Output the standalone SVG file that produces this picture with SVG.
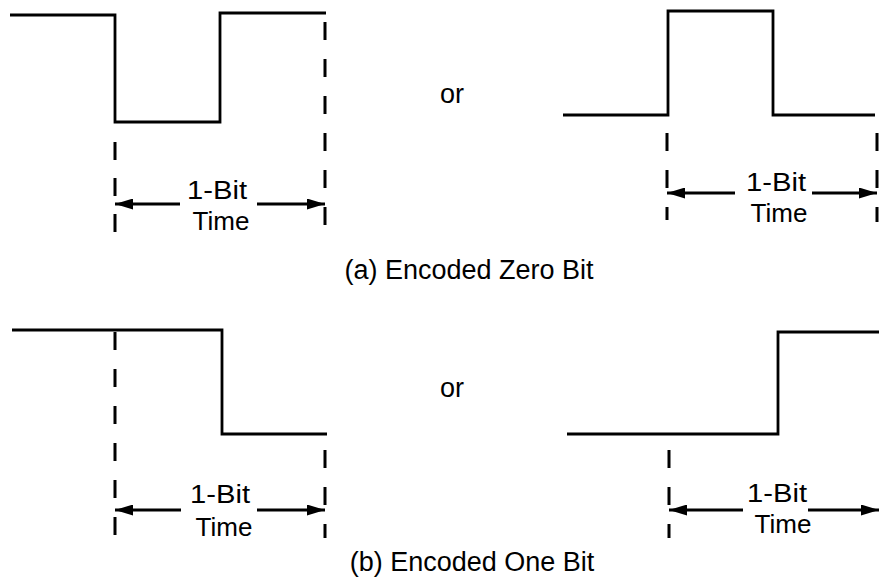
<svg xmlns="http://www.w3.org/2000/svg" width="879" height="578" viewBox="0 0 879 578">
<defs>
<marker id="ah" viewBox="0 0 18 11" refX="18" refY="5.5" markerWidth="18" markerHeight="11" markerUnits="userSpaceOnUse" orient="auto">
<path d="M0,0 L18,5.5 L0,11 Z" fill="#000"/>
</marker>
</defs>
<style>
.wave{fill:none;stroke:#000;stroke-width:2.8;stroke-linejoin:miter}
.dash{fill:none;stroke:#000;stroke-width:3;stroke-dasharray:18 19}
.arr{fill:none;stroke:#000;stroke-width:2.8;marker-end:url(#ah)}
text{font-family:"Liberation Sans",Arial,Helvetica,sans-serif;fill:#000}
.lbl{font-size:26px;text-anchor:middle}
.cap{font-size:27px;text-anchor:middle}
</style>
<rect width="879" height="578" fill="#fff"/>

<g id="zero-a">
<path class="wave" d="M10,15 H115 V122 H220 V13 H326"/>
</g>
<g id="zero-b">
<path class="wave" d="M563,115 H668 V11 H773 V115 H875"/>
</g>
<g id="one-a">
<path class="wave" d="M12,330 H222 V434 H327"/>
</g>
<g id="one-b">
<path class="wave" d="M567,434 H778 V332 H879"/>
</g>

<g id="connectors">
<path class="dash" d="M115,142 V232" style="stroke-dasharray:18 18"/>
<path class="dash" d="M325,22 V232"/>
<path class="arr" d="M180,204 H115"/>
<path class="arr" d="M257,204 H325"/>

<path class="dash" d="M667,133 V220"/>
<path class="dash" d="M877,133 V222"/>
<path class="arr" d="M735,193 H667"/>
<path class="arr" d="M812,193 H877"/>

<path class="dash" d="M115,332 V537"/>
<path class="dash" d="M325,450 V538"/>
<path class="arr" d="M181,510 H115"/>
<path class="arr" d="M257,510 H325"/>

<path class="dash" d="M669,450 V538"/>
<path class="arr" d="M743,510 H669"/>
<path class="arr" d="M808,510 H879"/>
</g>

<g id="labels">
<text class="lbl" x="217" y="199" textLength="60" lengthAdjust="spacingAndGlyphs">1-Bit</text>
<text class="lbl" x="221" y="230">Time</text>
<text class="lbl" x="776" y="191" textLength="60" lengthAdjust="spacingAndGlyphs">1-Bit</text>
<text class="lbl" x="779" y="222">Time</text>
<text class="lbl" x="220" y="503" textLength="60" lengthAdjust="spacingAndGlyphs">1-Bit</text>
<text class="lbl" x="224" y="536">Time</text>
<text class="lbl" x="777" y="502" textLength="60" lengthAdjust="spacingAndGlyphs">1-Bit</text>
<text class="lbl" x="783" y="533">Time</text>
<text class="cap" x="452" y="103">or</text>
<text class="cap" x="452" y="397">or</text>
<text class="cap" x="469" y="279">(a) Encoded Zero Bit</text>
<text class="cap" x="472" y="571">(b) Encoded One Bit</text>
</g>
</svg>
